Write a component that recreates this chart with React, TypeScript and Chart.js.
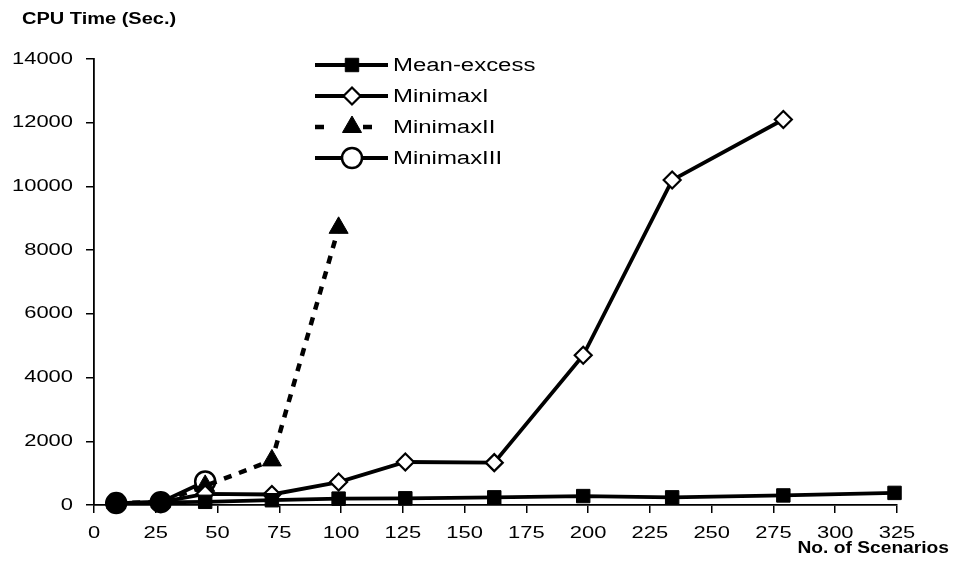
import React, { useEffect, useRef } from 'react';
import { Chart, registerables } from 'chart.js';

Chart.register(...registerables);

// ---- data ----
const scenarios = [9, 27, 45, 72, 99, 126, 162, 198, 234, 279, 324];
const meanExcess = [50, 80, 100, 150, 200, 210, 240, 280, 240, 300, 380];
const minimaxI = [60, 90, 350, 330, 720, 1350, 1330, 4700, 10200, 12100];
const minimaxII = [60, 90, 600, 1400, 8700];
const minimaxIII = [60, 90, 740];
const seriesNames = ['Mean-excess', 'MinimaxI', 'MinimaxII', 'MinimaxIII'];
const xTicks = [0, 25, 50, 75, 100, 125, 150, 175, 200, 225, 250, 275, 300, 325];
const yTicks = [0, 2000, 4000, 6000, 8000, 10000, 12000, 14000];
const yTitle = 'CPU Time (Sec.)';
const xTitle = 'No. of Scenarios';

const FONT = '"Liberation Sans", Arial, sans-serif';

function pts(vals: number[]) {
  return vals.map((v, i) => ({ x: scenarios[i], y: v }));
}

function stretchedText(
  ctx: CanvasRenderingContext2D,
  text: string,
  x: number,
  y: number,
  align: CanvasTextAlign,
  font: string,
  stretch: number
) {
  ctx.save();
  ctx.font = font;
  ctx.fillStyle = '#000';
  ctx.textBaseline = 'middle';
  ctx.textAlign = align;
  ctx.translate(x, y);
  ctx.scale(stretch, 1);
  ctx.fillText(text, 0, 0);
  ctx.restore();
}

function drawMarker(
  ctx: CanvasRenderingContext2D,
  style: string,
  x: number,
  y: number,
  r: number,
  fill: string,
  lw: number
) {
  ctx.save();
  ctx.setLineDash([]);
  ctx.fillStyle = fill;
  ctx.strokeStyle = '#000';
  ctx.lineWidth = lw;
  ctx.beginPath();
  if (style === 'rect') {
    const s = Math.SQRT1_2 * r;
    ctx.rect(x - s, y - s, 2 * s, 2 * s);
  } else if (style === 'rectRot') {
    ctx.moveTo(x, y - r);
    ctx.lineTo(x + r, y);
    ctx.lineTo(x, y + r);
    ctx.lineTo(x - r, y);
    ctx.closePath();
  } else if (style === 'triangle') {
    let a = 0;
    ctx.moveTo(x + Math.sin(a) * r, y - Math.cos(a) * r);
    a += (2 * Math.PI) / 3;
    ctx.lineTo(x + Math.sin(a) * r, y - Math.cos(a) * r);
    a += (2 * Math.PI) / 3;
    ctx.lineTo(x + Math.sin(a) * r, y - Math.cos(a) * r);
    ctx.closePath();
  } else {
    ctx.arc(x, y, r, 0, Math.PI * 2);
  }
  ctx.fill();
  ctx.stroke();
  ctx.restore();
}

const textPlugin = {
  id: 'textPlugin',
  afterDraw(chart: any) {
    const { ctx, chartArea, scales } = chart;
    const xs = scales.x;
    const ys = scales.y;
    const tickFont = `16.5px ${FONT}`;
    yTicks.forEach((v) => {
      stretchedText(ctx, String(v), chartArea.left - 21, ys.getPixelForValue(v), 'right', tickFont, 1.33);
    });
    xTicks.forEach((v) => {
      stretchedText(ctx, String(v), xs.getPixelForValue(v), chartArea.bottom + 28, 'center', tickFont, 1.33);
    });
    stretchedText(ctx, yTitle, 22, 20, 'left', `bold 16px ${FONT}`, 1.25);
    stretchedText(ctx, xTitle, 949, 549, 'right', `bold 16px ${FONT}`, 1.2);

    // legend
    const lx0 = 315;
    const lx1 = 388;
    const mx = 352;
    const tx = 393;
    const rows = [65, 96, 127, 158];
    chart.data.datasets.forEach((ds: any, i: number) => {
      const yy = rows[i];
      ctx.save();
      ctx.strokeStyle = '#000';
      ctx.lineWidth = ds.borderWidth;
      if (ds.borderDash && ds.borderDash.length) {
        ctx.setLineDash([9, 39]);
      }
      ctx.beginPath();
      ctx.moveTo(lx0, yy);
      ctx.lineTo(lx1, yy);
      ctx.stroke();
      ctx.restore();
      const fill = Array.isArray(ds.pointBackgroundColor)
        ? ds.pointBackgroundColor[ds.pointBackgroundColor.length - 1]
        : ds.pointBackgroundColor;
      drawMarker(ctx, ds.pointStyle, mx, yy, ds.pointRadius, fill, ds.pointBorderWidth);
      stretchedText(ctx, seriesNames[i], tx, yy + 1, 'left', `18px ${FONT}`, 1.33);
    });
  },
};

export default function App() {
  const ref = useRef<HTMLCanvasElement>(null);
  useEffect(() => {
    if (!ref.current) return;
    const axisCommon = {
      type: 'linear' as const,
      grid: {
        display: true,
        drawOnChartArea: false,
        drawTicks: true,
        tickLength: 8,
        color: '#000',
        lineWidth: 1.5,
      },
      border: { display: true, color: '#000', width: 1.8 },
    };
    const chart = new Chart(ref.current, {
      type: 'line',
      data: {
        datasets: [
          {
            label: seriesNames[0],
            data: pts(meanExcess),
            borderColor: '#000',
            backgroundColor: '#000',
            borderWidth: 3.8,
            pointStyle: 'rect',
            pointRadius: 9.5,
            pointBackgroundColor: '#000',
            pointBorderColor: '#000',
            pointBorderWidth: 1,
          },
          {
            label: seriesNames[1],
            data: pts(minimaxI),
            borderColor: '#000',
            backgroundColor: '#fff',
            borderWidth: 3.8,
            pointStyle: 'rectRot',
            pointRadius: 8.5,
            pointBackgroundColor: ['#000', '#000', '#fff', '#fff', '#fff', '#fff', '#fff', '#fff', '#fff', '#fff'],
            pointBorderColor: '#000',
            pointBorderWidth: 2.2,
          },
          {
            label: seriesNames[2],
            data: pts(minimaxII),
            borderColor: '#000',
            backgroundColor: '#000',
            borderWidth: 4.5,
            borderDash: [8, 8],
            pointStyle: 'triangle',
            pointRadius: 11,
            pointBackgroundColor: '#000',
            pointBorderColor: '#000',
            pointBorderWidth: 1,
          },
          {
            label: seriesNames[3],
            data: pts(minimaxIII),
            borderColor: '#000',
            backgroundColor: '#fff',
            borderWidth: 3.8,
            pointStyle: 'circle',
            pointRadius: 10,
            pointBackgroundColor: ['#000', '#000', '#fff'],
            pointBorderColor: '#000',
            pointBorderWidth: 2.5,
          },
        ] as any,
      },
      options: {
        animation: false,
        responsive: true,
        maintainAspectRatio: false,
        clip: false as any,
        layout: { padding: { top: 59, right: 62, left: 0, bottom: 0 } },
        plugins: { legend: { display: false }, tooltip: { enabled: false }, title: { display: false } },
        scales: {
          x: {
            ...axisCommon,
            min: 0,
            max: 325,
            ticks: { display: false, stepSize: 25 },
            afterFit: (s: any) => {
              s.height = 68;
            },
          },
          y: {
            ...axisCommon,
            min: 0,
            max: 14000,
            ticks: { display: false, stepSize: 2000 },
            afterFit: (s: any) => {
              s.width = 94;
            },
          },
        } as any,
      },
      plugins: [textPlugin],
    });
    return () => chart.destroy();
  }, []);
  return (
    <div style={{ position: 'absolute', left: 0, top: 0, width: 959, height: 573, background: '#fff' }}>
      <canvas ref={ref} />
    </div>
  );
}
